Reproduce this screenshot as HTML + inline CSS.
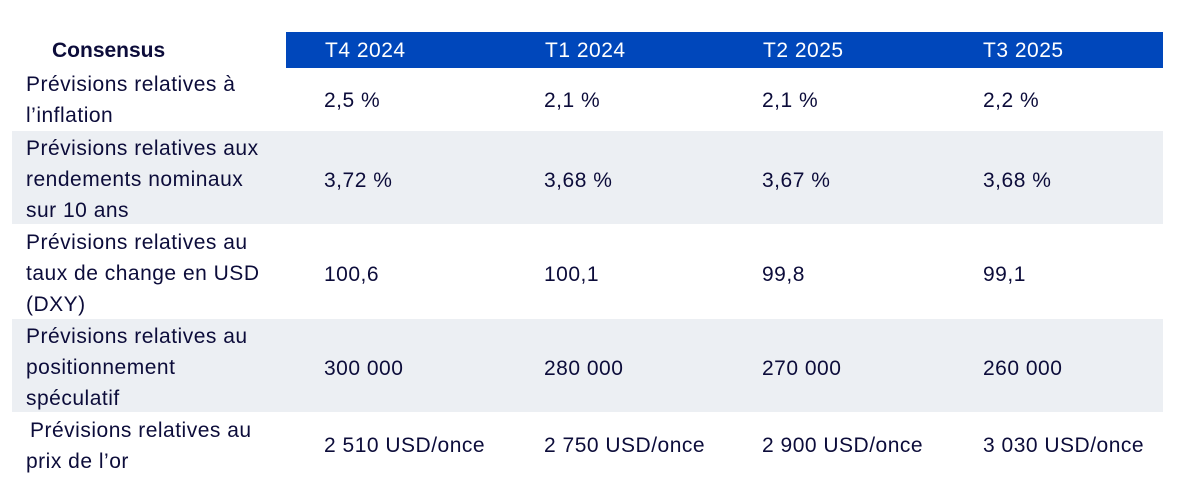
<!DOCTYPE html>
<html><head><meta charset="utf-8"><style>
body{margin:0;width:1192px;height:493px;background:#fff;position:relative;overflow:hidden;font-family:"Liberation Sans",sans-serif;color:#0c0c3a}
.a{position:absolute;white-space:nowrap;font-size:21px;letter-spacing:0.5px;line-height:31px}
.bg{position:absolute;left:12px;width:1151px;background:#eceff3}
.h{position:absolute;top:32px;left:286px;width:877px;height:36px;background:#0047bb}
.hc{color:#fff;top:35px}
</style></head><body>
<div class="h"></div>
<div class="bg" style="top:131px;height:93px"></div>
<div class="bg" style="top:319px;height:93px"></div>
<div class="a" style="left:52px;top:35px;font-weight:bold;letter-spacing:0">Consensus</div>
<div class="a hc" style="left:325px">T4 2024</div>
<div class="a hc" style="left:545px">T1 2024</div>
<div class="a hc" style="left:763px">T2 2025</div>
<div class="a hc" style="left:983px">T3 2025</div>

<div class="a" style="left:26px;top:69px">Prévisions relatives à<br>l’inflation</div>
<div class="a" style="left:26px;top:133px">Prévisions relatives aux<br>rendements nominaux<br>sur 10 ans</div>
<div class="a" style="left:26px;top:227px">Prévisions relatives au<br>taux de change en USD<br>(DXY)</div>
<div class="a" style="left:26px;top:321px">Prévisions relatives au<br>positionnement<br>spéculatif</div>
<div class="a" style="left:30px;top:415px">Prévisions relatives au<br><span style="margin-left:-4px">prix de l’or</span></div>

<div class="a" style="left:324px;top:85px">2,5 %</div>
<div class="a" style="left:544px;top:85px">2,1 %</div>
<div class="a" style="left:762px;top:85px">2,1 %</div>
<div class="a" style="left:983px;top:85px">2,2 %</div>

<div class="a" style="left:324px;top:165px">3,72 %</div>
<div class="a" style="left:544px;top:165px">3,68 %</div>
<div class="a" style="left:762px;top:165px">3,67 %</div>
<div class="a" style="left:983px;top:165px">3,68 %</div>

<div class="a" style="left:324px;top:259px">100,6</div>
<div class="a" style="left:544px;top:259px">100,1</div>
<div class="a" style="left:762px;top:259px">99,8</div>
<div class="a" style="left:983px;top:259px">99,1</div>

<div class="a" style="left:324px;top:353px">300 000</div>
<div class="a" style="left:544px;top:353px">280 000</div>
<div class="a" style="left:762px;top:353px">270 000</div>
<div class="a" style="left:983px;top:353px">260 000</div>

<div class="a" style="left:324px;top:430px">2 510 USD/once</div>
<div class="a" style="left:544px;top:430px">2 750 USD/once</div>
<div class="a" style="left:762px;top:430px">2 900 USD/once</div>
<div class="a" style="left:983px;top:430px">3 030 USD/once</div>
</body></html>
